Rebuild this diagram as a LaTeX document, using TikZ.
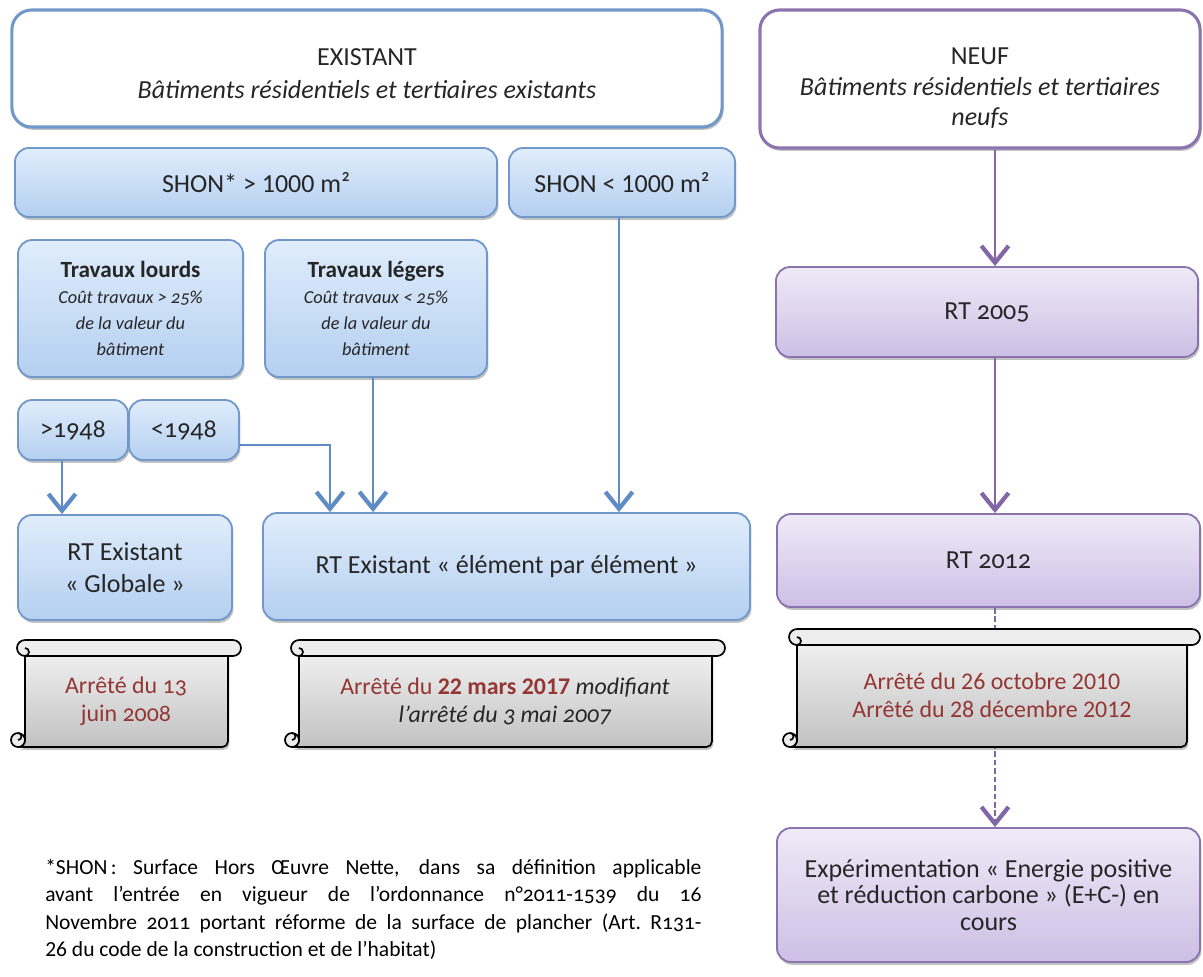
\documentclass[tikz,border=0pt]{standalone}
\usepackage{fontspec}
\setmainfont{Carlito}[Numbers=OldStyle]
\usetikzlibrary{arrows.meta,shadows}

\definecolor{bluebd}{HTML}{7298CA}
\definecolor{bluetop}{HTML}{E0EDFC}
\definecolor{bluebot}{HTML}{B4CFF0}
\definecolor{arrblue}{HTML}{5F8CC6}
\definecolor{purpbd}{HTML}{8B73AE}
\definecolor{purptop}{HTML}{EFEAF7}
\definecolor{purpbot}{HTML}{CDBFE5}
\definecolor{arrpurp}{HTML}{8266A6}
\definecolor{darktext}{HTML}{262626}
\definecolor{arretered}{HTML}{943634}

\newcommand{\travline}[1]{{\fontsize{13}{17}\selectfont\itshape #1}}
\newcommand{\travhead}[1]{{\fontsize{16.5}{20}\selectfont\bfseries #1}}
\newcommand{\lin}[1]{{\addfontfeatures{Numbers=Lining}#1}}

\tikzset{
    shadowed/.style={drop shadow={shadow xshift=1pt, shadow yshift=-2pt, opacity=0.35, fill=black!70}},
    headbox/.style={draw, line width=2.2pt, fill=white, rounded corners=14pt, shadowed,
        align=center, text=darktext, font=\fontsize{18.5}{23.5}\selectfont},
    bluebox/.style={draw=bluebd, line width=1.3pt, top color=bluetop, bottom color=bluebot,
        rounded corners=10pt, shadowed, align=center, text=darktext, font=\fontsize{18.5}{22.5}\selectfont},
    purpbox/.style={bluebox, draw=purpbd, top color=purptop, bottom color=purpbot},
    travbox/.style={bluebox, font=\fontsize{13}{18.5}\selectfont},
    arr/.style={draw=arrblue, line width=1.6pt, -{Straight Barb[length=4.2mm, width=6.8mm, line width=3pt]}},
    parr/.style={arr, draw=arrpurp, line width=2pt},
    scrollbody/.style={draw=black, line width=1.2pt, top color=white!95!black, bottom color=black!24, shadowed},
    scrollroll/.style={draw=black, line width=1.2pt, fill=white!93!black},
    scrolltext/.style={align=center, text=arretered, font=\fontsize{17}{20}\selectfont},
}

\begin{document}
\begin{tikzpicture}[x=0.025cm, y=-0.025cm]
    \useasboundingbox (0,0) rectangle (1203,976);

    % EXISTANT side
    \node[headbox, draw=bluebd, minimum width=17.75cm, minimum height=2.925cm] (existant) at (367,68.5)
        {\rule{0pt}{19pt}EXISTANT\\ \textit{Bâtiments résidentiels et tertiaires existants}};
    \node[bluebox, minimum width=12.05cm, minimum height=1.725cm] (shonA) at (256,182.5) {SHON* > \lin{1000} m²};
    \node[bluebox, minimum width=5.65cm, minimum height=1.725cm] (shonB) at (622,182.5) {SHON < \lin{1000} m²};

    \node[travbox, minimum width=5.625cm, minimum height=3.425cm] (lourds) at (130.5,308.5)
        {\travhead{Travaux lourds}\\ \travline{Coût travaux > 25\%}\\ \travline{de la valeur du}\\ \travline{bâtiment}};
    \node[travbox, minimum width=5.55cm, minimum height=3.425cm] (legers) at (376,308.5)
        {\travhead{Travaux légers}\\ \travline{Coût travaux < 25\%}\\ \travline{de la valeur du}\\ \travline{bâtiment}};

    \node[bluebox, minimum width=2.75cm, minimum height=1.5cm] (recent) at (73,430) {>1948};
    \node[bluebox, minimum width=2.75cm, minimum height=1.5cm] (ancien) at (184,430) {<1948};

    \node[bluebox, minimum width=5.35cm, minimum height=2.625cm] (globale) at (125,567.5)
        {RT Existant\\ «~Globale~»};
    \node[bluebox, minimum width=12.175cm, minimum height=2.675cm] (element) at (506.5,566.5)
        {RT Existant «~élément par élément~»};

    % NEUF side
    \node[headbox, draw=purpbd, minimum width=11cm, minimum height=3.45cm, font=\fontsize{18.5}{21.5}\selectfont] (neuf) at (980,79)
        {\rule{0pt}{25pt}NEUF\\ \textit{Bâtiments résidentiels et tertiaires}\\ \textit{neufs}};
    \node[purpbox, minimum width=10.55cm, minimum height=2.25cm] (rtA) at (987,312) {RT 2005};
    \node[purpbox, minimum width=10.575cm, minimum height=2.325cm] (rtB) at (988.5,560.5) {RT 2012};
    \node[purpbox, minimum width=10.575cm, minimum height=3.35cm, font=\fontsize{18.5}{19}\selectfont] (experim) at (988.5,895)
        {Expérimentation «~Energie positive\\ et réduction carbone~» (E+C-) en\\ cours};

    % connectors
    \draw[arr] (recent.south -| 62,0) -- (globale.north -| 62,0);
    \draw[arr] (ancien.east |- 0,445) -| (element.north -| 330,0);
    \draw[arr] (legers.south -| 373,0) -- (element.north -| 373,0);
    \draw[arr] (shonB.south -| 619,0) -- (element.north -| 619,0);
    \draw[parr] (neuf.south -| 995,0) -- (rtA.north -| 995,0);
    \draw[parr] (rtA.south -| 995,0) -- (rtB.north -| 995,0);
    \draw[parr, line width=1pt, dash pattern=on 4pt off 2pt] (rtB.south -| 995,0) -- (experim.north -| 995,0);

    % scrolls
    \foreach \xa/\yt/\xe/\yb in {11/640/241/747, 285/640/725/747, 783/629/1200/747} {
        \filldraw[scrollbody] ({\xa+14},{\yb-7}) arc[start angle=0, end angle=90, radius=7]
            [rounded corners=4pt] -- ({\xe-13},\yb) -- ({\xe-13},{\yt+8}) [sharp corners] -- ({\xa+14},{\yt+8}) -- cycle;
        \filldraw[scrollroll] ({\xa+7},{\yb-7}) circle[radius=7];
        \draw[line width=1.2pt] ({\xa+7},{\yb-14}) arc[start angle=-90, end angle=90, radius=3.5];
        \filldraw[scrollroll] ({\xa+14},\yt) -- ({\xe-8},\yt) arc[start angle=-90, end angle=90, radius=8]
            -- ({\xa+14},{\yt+16}) arc[start angle=90, end angle=270, radius=8] -- cycle;
        \draw[line width=1.2pt] ({\xa+14},{\yt+16}) arc[start angle=90, end angle=-90, radius=4];
    }
    \node[scrolltext] (arreteA) at (126,701) {Arrêté du 13\\ juin 2008};
    \node[scrolltext] (arreteB) at (505,701)
        {Arrêté du \textbf{\lin{22} mars \lin{2017}} \textcolor{darktext}{\textit{modifiant}}\\ \textcolor{darktext}{\textit{l’arrêté du 3 mai 2007}}};
    \node[scrolltext] (arreteC) at (992,695) {Arrêté du \lin{26} octobre \lin{2010}\\ Arrêté du \lin{28} décembre \lin{2012}};

    % footnote
    \node[anchor=north west, text width=16.4cm, align=justify, inner sep=0pt, text=black,
        font=\fontsize{15.3}{19.5}\selectfont] (note) at (45,859)
        {\hyphenpenalty=10000 *SHON\,: Surface Hors Œuvre Nette, dans sa définition applicable\linebreak avant l’entrée en vigueur de l’ordonnance n°2011-1539 du 16\linebreak Novembre 2011 portant réforme de la surface de plancher (Art.~R131-\linebreak \lin{26} du code de la construction et de l’habitat)};

\end{tikzpicture}
\end{document}
